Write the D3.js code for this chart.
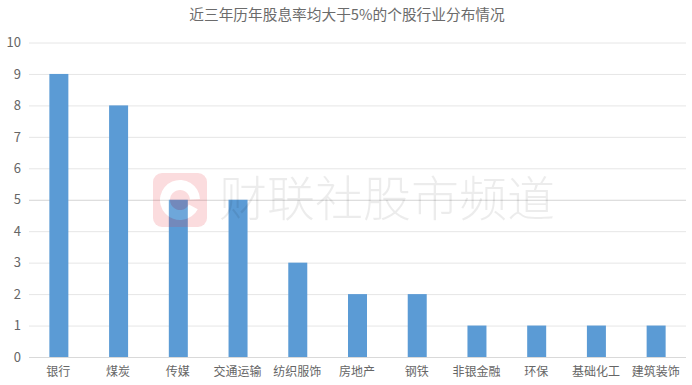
<!DOCTYPE html>
<html>
<head>
<meta charset="utf-8">
<script src="https://cdnjs.cloudflare.com/ajax/libs/d3/7.8.5/d3.min.js"></script>
<style>
  html, body { margin: 0; padding: 0; background: #fff; }
  svg { display: block; }
  text { font-family: "Noto Sans CJK SC", "Noto Sans", sans-serif; }
</style>
</head>
<body>
<script>
const categories = ['银行', '煤炭', '传媒', '交通运输', '纺织服饰', '房地产', '钢铁', '非银金融', '环保', '基础化工', '建筑装饰'];
const stockCounts = [9, 8, 5, 5, 3, 2, 2, 1, 1, 1, 1];
const yTicks = [0, 1, 2, 3, 4, 5, 6, 7, 8, 9, 10];
const chartTitle = '近三年历年股息率均大于5%的个股行业分布情况';
const watermark = '财联社股市频道';

const width = 692;
const height = 385;
const plotLeft = 29;
const plotRight = 686;
const plotTop = 42.5;
const plotBottom = 357;
const barWidth = 19;

const xScale = d3.scaleBand()
                .domain(categories)
                .range([plotLeft, plotRight]);

const yScale = d3.scaleLinear()
                .domain([0, 10])
                .range([plotBottom, plotTop]);

const svg = d3.select('body')
              .append('svg')
              .attr('width', width)
              .attr('height', height);

svg.append('text')
    .text(chartTitle)
    .attr('x', 347)
    .attr('y', 19.5)
    .attr('text-anchor', 'middle')
    .attr('font-size', 14.7)
    .attr('fill', '#6b6b6b');

// gridlines, the axis is only used for them and the labels
const yAxis = d3.axisLeft(yScale)
                .tickValues(yTicks)
                .tickSize(-(plotRight - plotLeft))
                .tickPadding(8);

const yAxisGroup = svg.append('g')
    .attr('transform', 'translate(' + plotLeft + ',0)')
    .call(yAxis);

yAxisGroup.select('.domain').remove();
yAxisGroup.selectAll('line')
    .attr('stroke', d => d === 5 ? '#d4d4d4' : '#e6e6e6')
    .attr('stroke-width', 1);
yAxisGroup.selectAll('text')
    .attr('font-size', 13)
    .attr('fill', '#666');

svg.selectAll('.bar')
    .data(stockCounts)
    .enter()
    .append('rect')
    .attr('class', 'bar')
    .attr('x', (d, i) => xScale(categories[i]) + xScale.bandwidth() / 2 - barWidth / 2)
    .attr('y', d => yScale(d))
    .attr('width', barWidth)
    .attr('height', d => yScale(0) - yScale(d))
    .attr('fill', '#5b9bd5');

const xAxis = d3.axisBottom(xScale)
                .tickSize(0)
                .tickPadding(10);

const xAxisGroup = svg.append('g')
    .attr('transform', 'translate(-0.5,' + plotBottom + ')')
    .call(xAxis);

xAxisGroup.select('.domain')
    .attr('stroke', '#d9d9d9');
xAxisGroup.selectAll('text')
    .attr('font-size', 12)
    .attr('fill', '#666');

// watermark sits on top of the bars, the C is cut out of the red tile
const logoRing = d3.arc()({ innerRadius: 10, outerRadius: 20, startAngle: 2.05, endAngle: 7.8 });

const logoMask = svg.append('mask')
    .attr('id', 'logo-cut');
logoMask.append('rect')
    .attr('width', width)
    .attr('height', height)
    .attr('fill', '#fff');
logoMask.append('path')
    .attr('d', logoRing)
    .attr('transform', 'translate(180,200)')
    .attr('fill', '#000');

const mark = svg.append('g');

mark.append('rect')
    .attr('x', 153)
    .attr('y', 173)
    .attr('width', 54)
    .attr('height', 54)
    .attr('rx', 9)
    .attr('fill', '#e8343f')
    .attr('opacity', 0.17)
    .attr('mask', 'url(#logo-cut)');

mark.append('path')
    .attr('d', logoRing)
    .attr('transform', 'translate(180,200)')
    .attr('fill', '#fff')
    .attr('opacity', 0.12);

mark.append('text')
    .text(watermark)
    .attr('x', 219)
    .attr('y', 216)
    .attr('font-size', 48)
    .attr('font-weight', 300)
    .attr('fill', '#000')
    .attr('opacity', 0.07);
</script>
</body>
</html>
